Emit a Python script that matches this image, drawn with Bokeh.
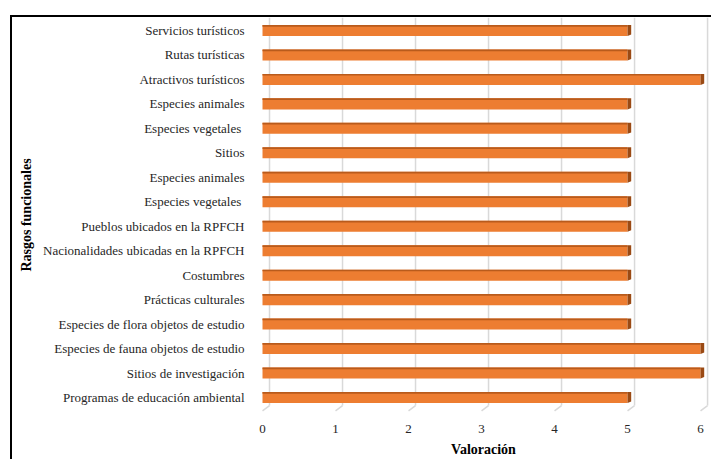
from bokeh.plotting import figure
from bokeh.models import FixedTicker, Range1d
from bokeh.embed import file_html
from bokeh.resources import INLINE

categories = [
    "Servicios turísticos",
    "Rutas turísticas",
    "Atractivos turísticos",
    "Especies animales",
    "Especies vegetales ",
    "Sitios",
    "Especies animales",
    "Especies vegetales ",
    "Pueblos ubicados en la RPFCH",
    "Nacionalidades ubicadas en la RPFCH",
    "Costumbres",
    "Prácticas culturales",
    "Especies de flora objetos de estudio",
    "Especies de fauna objetos de estudio",
    "Sitios de investigación",
    "Programas de educación ambiental",
]
values = [5, 5, 6, 5, 5, 5, 5, 5, 5, 5, 5, 5, 5, 6, 6, 5]
x_ticks = [0, 1, 2, 3, 4, 5, 6]
x_title = "Valoración"
y_title = "Rasgos funcionales"

FONT = "Liberation Serif"
n = len(categories)
ys = [n - 1 - i for i in range(n)]

p = figure(
    output_backend="svg",
    toolbar_location=None,
    frame_width=456,
    frame_height=395,
    min_border_left=243,
    min_border_right=0,
    min_border_top=0,
    min_border_bottom=47,
    x_range=Range1d(-0.096, 6.15),
    y_range=Range1d(-0.613, 15.53),
)
p.styles = {
    "margin-left": "10px",
    "margin-top": "15px",
    "border-top": "2px solid black",
    "border-left": "2px solid black",
}
p.outline_line_color = None
p.xgrid.visible = False
p.ygrid.visible = False
p.background_fill_color = "white"
p.border_fill_color = "white"

# back-wall gridlines with 3D floor slant
back = 0.096
y_floor = -0.33
y_front = -0.55
gx = [t + back for t in x_ticks]
p.segment(x0=gx, y0=[y_floor] * len(x_ticks), x1=gx, y1=[15.53] * len(x_ticks),
          line_color="#d9d9d9", line_width=1.5)
p.segment(x0=gx, y0=[y_floor] * len(x_ticks), x1=x_ticks, y1=[y_front] * len(x_ticks),
          line_color="#d9d9d9", line_width=1.5)

h = 0.45
dx = 0.05
dy = 0.06
# main face
p.hbar(y=ys, left=0, right=values, height=h, fill_color="#ED7D31", line_color=None)
# top dark strip
p.hbar(y=[y + h / 2 - 0.035 for y in ys], left=0, right=values, height=0.07,
       fill_color="#B95B1C", line_color=None)
# right side
xs_side = [[v, v + dx, v + dx, v] for v in values]
ys_side = [[y - h / 2, y - h / 2 + dy, y + h / 2, y + h / 2] for y in ys]
p.patches(xs=xs_side, ys=ys_side, fill_color="#9A4A14", line_color=None)

# axes
p.xaxis.ticker = FixedTicker(ticks=x_ticks)
p.xaxis.axis_line_color = None
p.xaxis.major_tick_line_color = None
p.xaxis.minor_tick_line_color = None
p.xaxis.major_label_standoff = 6
p.xaxis.major_label_text_font = FONT
p.xaxis.major_label_text_font_size = "13px"
p.xaxis.major_label_text_color = "#262626"
p.xaxis.axis_label = x_title
p.xaxis.axis_label_text_font = FONT
p.xaxis.axis_label_text_font_size = "14px"
p.xaxis.axis_label_text_font_style = "bold"
p.xaxis.axis_label_text_color = "#000000"
p.xaxis.axis_label_standoff = 6

p.yaxis.ticker = FixedTicker(ticks=ys)
p.yaxis.major_label_overrides = {y: c for y, c in zip(ys, categories)}
p.yaxis.axis_line_color = None
p.yaxis.major_tick_line_color = None
p.yaxis.minor_tick_line_color = None
p.yaxis.major_label_standoff = 5
p.yaxis.major_label_text_font = FONT
p.yaxis.major_label_text_font_size = "13px"
p.yaxis.major_label_text_color = "#262626"
p.yaxis.axis_label = y_title
p.yaxis.axis_label_text_font = FONT
p.yaxis.axis_label_text_font_size = "14px"
p.yaxis.axis_label_text_font_style = "bold"
p.yaxis.axis_label_text_color = "#000000"
p.yaxis.axis_label_standoff = 6

open("out.html", "w").write(file_html(p, INLINE))
